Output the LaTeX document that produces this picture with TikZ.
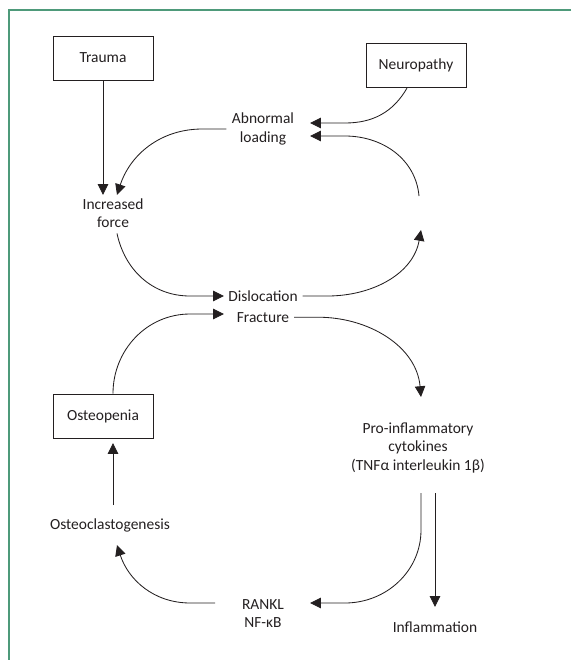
\documentclass[tikz,border=0pt]{standalone}
\usepackage{fontspec}
\setmainfont{Carlito}
\usetikzlibrary{arrows.meta,calc,positioning}
\definecolor{ink}{HTML}{231F20}
\definecolor{frame}{HTML}{4E9A7A}
\newcommand{\eleven}{\fontsize{11}{13}\selectfont}
\tikzset{
 every node/.append style={font=\eleven,text=ink,align=center},
 box/.style={draw=ink,line width=.7pt,minimum width=25mm,minimum height=11mm,inner sep=2pt},
 word/.style={inner sep=1pt},
 flow/.style={-{Triangle[length=2.7mm,width=2.6mm]},draw=ink,line width=.6pt},
}

\begin{document}
\begin{tikzpicture}

\useasboundingbox (0,0) rectangle (14.275,-16.5);
\draw[frame,line width=.8pt] (14.275,-.25) -- (.225,-.25) -- (.225,-16.5);
% boxes
\node[box] (trauma) at (2.575,-1.45) {Trauma};
\node[box] (neuro) at (10.4,-1.64) {Neuropathy};
\node[box] (openia) at (2.575,-10.4) {Osteopenia};
% loop
\node[word] (loading) at (6.575,-3.225) {Abnormal\\loading};
\node[word] (force) at (2.825,-5.33) {Increased\\force};
\node[word] (disloc) at (6.575,-7.4) {Dislocation};
\node[word] (fract) at (6.575,-7.93) {Fracture};
\node[word] (cyto) at (10.45,-11.2) {Pro-inflammatory\\cytokines\\(TNFα interleukin 1β)};
\node[word] (rankl) at (6.575,-15.33) {RANKL\\NF-κB};
\node[word] (inflam) at (10.875,-15.68) {Inflammation};
\node[word] (clast) at (2.75,-13.13) {Osteoclastogenesis};
\coordinate (gap) at (10.5,-5.33);
\draw[flow] (trauma.south -| 2.575,0) -- (2.575,-4.875);
\draw[flow] ($(loading.west)+(-.1,0)$) -- ++(-.6,0) to[out=180,in=72] (2.925,-4.875);
\draw[flow] ($(force.south)+(.1,-.1)$) to[out=-78,in=180] (4.75,-7.4) -- (5.6,-7.4);
\draw[flow] ($(disloc.east)+(.08,0)$) -- ++(.62,0) to[out=0,in=-100] ($(gap)+(.025,-.42)$);
\draw[flow] ($(gap)+(-.025,.43)$) to[out=95,in=0] (8.625,-3.4) -- (7.75,-3.4);
\draw[flow] ($(neuro.south)+(-.225,0)$) to[out=-120,in=0] (8.625,-3.075) -- (7.75,-3.075);
\draw[flow] ($(fract.east)+(.08,0)$) -- ++(.6,0) to[out=0,in=95] (10.525,-9.925);
\draw[flow] (10.525,-12.325) -- (10.525,-13.25) to[out=-90,in=0] (8.625,-15.075) -- (7.75,-15.075);
\draw[flow] (10.875,-12.325) -- (10.875,-15.175);
\draw[flow] (5.375,-15.075) -- ++(-.62,0) to[out=180,in=-72] (2.925,-13.625);
\draw[flow] (2.825,-12.625) -- (2.825,-11.075);
\draw[flow] (openia.north -| 2.825,0) to[out=90,in=180] (4.75,-7.85) -- (5.6,-7.85);

\end{tikzpicture}
\end{document}
